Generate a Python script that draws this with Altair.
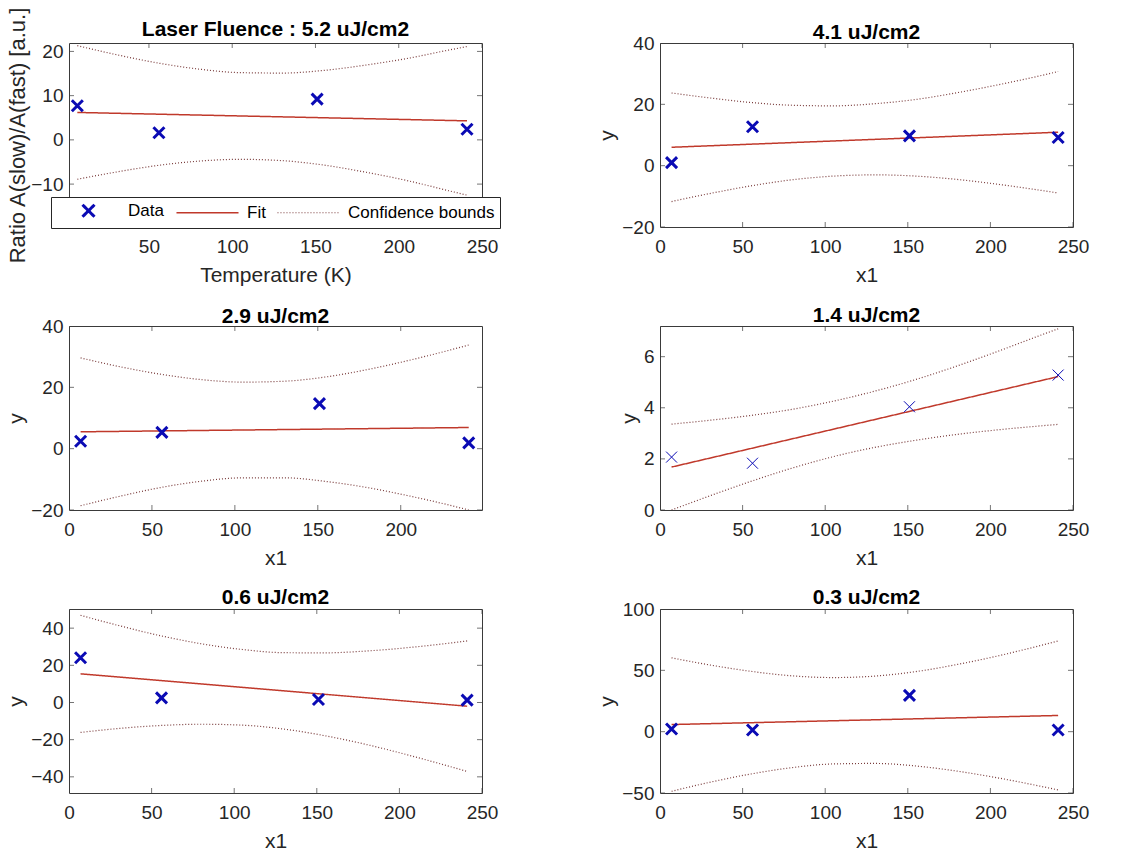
import altair as alt
import pandas as pd

FONT = "Liberation Sans"
SERIES = ["Data", "Fit", "Confidence bounds"]
XPATH = "M-1,-1L1,1M-1,1L1,-1"
LPATH = "M-5.17,0L5.17,0"

titles = ["Laser Fluence : 5.2 uJ/cm2", "4.1 uJ/cm2", "2.9 uJ/cm2",
          "1.4 uJ/cm2", "0.6 uJ/cm2", "0.3 uJ/cm2"]

temp = [7, 56, 151, 241]
fit_x = [7, 241]
band_x = [7, 30, 55, 80, 105, 130, 155, 180, 205, 230, 241]

# 5.2 uJ/cm2
ratio_52 = [7.7, 1.6, 9.2, 2.4]
fit_52 = [6.2, 4.3]
upper_52 = [21.3, 19.3, 17.4, 16.0, 15.2, 15.1, 15.7, 16.9, 18.4, 20.3, 21.1]
lower_52 = [-8.9, -7.3, -5.8, -4.8, -4.4, -4.7, -5.7, -7.3, -9.2, -11.5, -12.5]
# 4.1 uJ/cm2
ratio_41 = [1.0, 12.7, 9.7, 9.2]
fit_41 = [6.0, 10.9]
upper_41 = [23.7, 22.1, 20.6, 19.7, 19.5, 20.2, 21.6, 23.8, 26.4, 29.3, 30.7]
lower_41 = [-11.7, -9.1, -6.6, -4.6, -3.4, -3.0, -3.4, -4.5, -6.1, -8.0, -8.9]
# 2.9 uJ/cm2
ratio_29 = [2.4, 5.3, 14.7, 1.9]
fit_29 = [5.5, 6.9]
upper_29 = [29.6, 26.8, 24.3, 22.5, 21.7, 22.0, 23.4, 25.8, 28.8, 32.2, 33.8]
lower_29 = [-18.6, -15.6, -12.7, -10.6, -9.5, -9.5, -10.7, -12.7, -15.4, -18.5, -20.0]
# 1.4 uJ/cm2
ratio_14 = [2.07, 1.83, 4.04, 5.28]
fit_14 = [1.68, 5.22]
upper_14 = [3.36, 3.51, 3.70, 3.94, 4.26, 4.65, 5.11, 5.64, 6.22, 6.83, 7.09]
lower_14 = [0.00, 0.55, 1.12, 1.64, 2.09, 2.45, 2.73, 2.96, 3.14, 3.29, 3.35]
# 0.6 uJ/cm2
ratio_06 = [24.1, 2.5, 1.6, 1.3]
fit_06 = [15.4, -2.0]
upper_06 = [46.9, 41.4, 36.0, 31.6, 28.5, 26.8, 26.7, 27.7, 29.5, 31.9, 33.1]
lower_06 = [-16.1, -14.0, -12.4, -11.7, -12.2, -14.3, -17.9, -22.6, -28.2, -34.3, -37.1]
# 0.3 uJ/cm2
ratio_03 = [2.2, 1.4, 29.6, 1.4]
fit_03 = [5.8, 13.2]
upper_03 = [60.2, 54.4, 49.2, 45.5, 44.1, 45.3, 49.0, 54.8, 61.9, 70.1, 73.9]
lower_03 = [-48.6, -41.3, -34.5, -29.3, -26.3, -25.9, -28.0, -32.2, -37.8, -44.4, -47.5]

xticks_a = [50, 100, 150, 200, 250]
xticks_b = [0, 50, 100, 150, 200, 250]
xticks_c = [0, 50, 100, 150, 200]
yticks_52 = [-10, 0, 10, 20]
yticks_41 = [-20, 0, 20, 40]
yticks_29 = [-20, 0, 20, 40]
yticks_14 = [0, 2, 4, 6]
yticks_06 = [-40, -20, 0, 20, 40]
yticks_03 = [-50, 0, 50, 100]

W, H = 413, 184
FRAME = "#3a3a3a"
TXT = "#262626"
BLUE = "#0a0ab4"
RED = "#c0392b"
DARKRED = "#7a3c3c"


def panel(title, toff, ratio, fit, upper, lower, xdom, xticks, ydom, yticks,
          xtitle, ytitle, mw, legend=False, ytitle_size=21, ytitle_pad=4):
    pts = pd.DataFrame({"x": temp, "y": ratio, "series": "Data", "part": "data"})
    lines = pd.concat([
        pd.DataFrame({"x": fit_x, "y": fit, "series": "Fit", "part": "fit"}),
        pd.DataFrame({"x": band_x, "y": upper, "series": "Confidence bounds", "part": "upper"}),
        pd.DataFrame({"x": band_x, "y": lower, "series": "Confidence bounds", "part": "lower"}),
    ])
    xs = alt.Scale(domain=xdom, nice=False, zero=False)
    ys = alt.Scale(domain=ydom, nice=False, zero=False)
    xax = alt.Axis(values=xticks, title=xtitle, labelPadding=10, titlePadding=8,
                   labelFlush=False)
    yax = alt.Axis(values=yticks, title=ytitle, labelPadding=6, titlePadding=ytitle_pad,
                   titleFontSize=ytitle_size, labelFlush=False)
    if legend:
        leg = alt.Legend(orient="none", legendX=-18, legendY=154, direction="horizontal",
                         columns=3, padding=5, strokeColor=TXT, fillColor="white",
                         labelFont=FONT, labelFontSize=17, labelColor="black",
                         symbolSize=144, symbolOffset=24, labelOffset=31,
                         columnPadding=9, zindex=1, cornerRadius=0)
    else:
        leg = None
    color = alt.Color("series:N", title=None, legend=leg,
                      scale=alt.Scale(domain=SERIES, range=[BLUE, RED, DARKRED]))
    shape = alt.Shape("series:N", title=None, legend=leg,
                      scale=alt.Scale(domain=SERIES, range=[XPATH, LPATH, LPATH]))
    sw = alt.StrokeWidth("series:N", title=None, legend=leg,
                         scale=alt.Scale(type="ordinal", domain=SERIES, range=[mw, 1.5, 1.2]))
    dash = alt.StrokeDash("series:N", title=None, legend=leg,
                          scale=alt.Scale(domain=SERIES, range=[[1, 0], [1, 0], [1, 2]]))

    pt_layer = alt.Chart(pts).mark_point(filled=False, clip=True, opacity=1, size=121).encode(
        x=alt.X("x:Q", scale=xs, axis=xax),
        y=alt.Y("y:Q", scale=ys, axis=yax),
        color=color, shape=shape, strokeWidth=sw,
    )
    ln_layer = alt.Chart(lines).mark_line(clip=True, interpolate="monotone").encode(
        x=alt.X("x:Q", scale=xs, axis=xax),
        y=alt.Y("y:Q", scale=ys, axis=yax),
        color=color, strokeDash=dash, strokeWidth=sw, detail="part:N",
    )
    xt = pd.DataFrame({"x": xticks})
    yt = pd.DataFrame({"y": yticks})
    tk = dict(clip=True, size=10, thickness=1, color=FRAME)
    t_top = alt.Chart(xt).mark_tick(**tk).encode(x=alt.X("x:Q", scale=xs, axis=xax), y=alt.value(0))
    t_bot = alt.Chart(xt).mark_tick(**tk).encode(x=alt.X("x:Q", scale=xs, axis=xax), y=alt.value(H))
    t_lft = alt.Chart(yt).mark_tick(**tk).encode(y=alt.Y("y:Q", scale=ys, axis=yax), x=alt.value(0))
    t_rgt = alt.Chart(yt).mark_tick(**tk).encode(y=alt.Y("y:Q", scale=ys, axis=yax), x=alt.value(W))
    return alt.layer(ln_layer, pt_layer, t_top, t_bot, t_lft, t_rgt).properties(
        width=W, height=H, title=alt.TitleParams(title, frame="group", offset=toff))


p1 = panel(titles[0], -33.5, ratio_52, fit_52, upper_52, lower_52, [2, 250], xticks_a,
           [-19.7, 21.9], yticks_52, "Temperature (K)", "Ratio A(slow)/A(fast) [a.u.]",
           3, legend=True, ytitle_size=22, ytitle_pad=1)
p2 = panel(titles[1], -8.5, ratio_41, fit_41, upper_41, lower_41, [0, 250], xticks_b,
           [-20, 40], yticks_41, "x1", "y", 3)
p3 = panel(titles[2], -9.5, ratio_29, fit_29, upper_29, lower_29, [0, 249], xticks_c,
           [-20, 40], yticks_29, "x1", "y", 3)
p4 = panel(titles[3], 0.5, ratio_14, fit_14, upper_14, lower_14, [0, 250], xticks_b,
           [0, 7.2], yticks_14, "x1", "y", 1)
p5 = panel(titles[4], 1, ratio_06, fit_06, upper_06, lower_06, [0, 250], xticks_b,
           [-48.7, 50.3], yticks_06, "x1", "y", 3)
p6 = panel(titles[5], -8, ratio_03, fit_03, upper_03, lower_03, [0, 250], xticks_b,
           [-50, 100], yticks_03, "x1", "y", 3)

chart = alt.concat(p1, p2, p3, p4, p5, p6, columns=2,
                   spacing={"row": 99, "column": 178}, bounds="flush").resolve_scale(
    x="independent", y="independent", color="independent", shape="independent",
    strokeWidth="independent", strokeDash="independent",
).properties(
    padding={"left": 5, "top": 6, "right": 5, "bottom": 2},
    background="white",
).configure_view(
    stroke=FRAME, strokeWidth=1,
).configure_axis(
    labelFont=FONT, labelFontSize=19, labelColor=TXT, titleFont=FONT, titleFontSize=21,
    titleFontWeight="normal", titleColor=TXT, ticks=False, tickSize=0, domain=False, grid=False,
).configure_title(
    font=FONT, fontSize=21, fontWeight="bold", color="black",
)

chart.save("out.html", embed_options={"renderer": "svg", "actions": False})
